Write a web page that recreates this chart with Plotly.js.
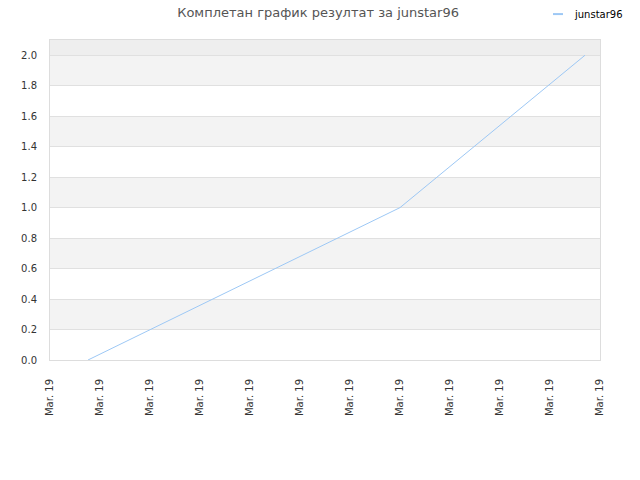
<!DOCTYPE html>
<html>
<head>
<meta charset="utf-8">
<script src="https://cdn.plot.ly/plotly-3.0.1.min.js"></script>
<style>
  html, body { margin: 0; padding: 0; background: #fff; }
  #graph { width: 640px; height: 480px; }
</style>
</head>
<body>
<div id="graph"></div>
<script>
// data (x in tick steps from the first tick)
var playerName = "junstar96";
var pointX = [0.76, 7.0, 10.7];
var pointY = [0.0, 1.0, 2.0];
var tickPos = [0, 1, 2, 3, 4, 5, 6, 7, 8, 9, 10, 11];
var tickLabels = ["Mar. 19", "Mar. 19", "Mar. 19", "Mar. 19", "Mar. 19", "Mar. 19",
                  "Mar. 19", "Mar. 19", "Mar. 19", "Mar. 19", "Mar. 19", "Mar. 19"];
var yTicks = [0, 0.2, 0.4, 0.6, 0.8, 1.0, 1.2, 1.4, 1.6, 1.8, 2.0];
var yMax = 2.1;
var lineColor = "#9dc8f5";

// alternating grey bands between y gridlines
var shapes = [];
for (var i = 1; i < yTicks.length - 1; i += 2) {
  shapes.push({type: "rect", xref: "paper", yref: "y", layer: "below",
    x0: 0, x1: 1, y0: yTicks[i], y1: yTicks[i + 1],
    fillcolor: "#f3f3f3", line: {width: 0}});
}
shapes.push({type: "rect", xref: "paper", yref: "y", layer: "below",
  x0: 0, x1: 1, y0: yTicks[yTicks.length - 1], y1: yMax,
  fillcolor: "#eeeeee", line: {width: 0}});
// legend drawn by hand (plotly's legend would push the margin)
shapes.push({type: "line", xref: "paper", yref: "paper",
  x0: 0.9145, x1: 0.9327, y0: 1.081, y1: 1.081,
  line: {color: lineColor, width: 2}});

var traces = [{
  x: pointX, y: pointY, mode: "lines", name: playerName,
  line: {color: lineColor, width: 1}
}];

var layout = {
  width: 640, height: 480,
  margin: {l: 50, r: 40, t: 40, b: 120},
  paper_bgcolor: "#fff", plot_bgcolor: "#fff",
  font: {family: "DejaVu Sans, sans-serif", size: 10, color: "#333"},
  title: {text: "Комплетан график резултат за " + playerName,
    font: {family: "DejaVu Sans, sans-serif", size: 13, color: "#555"},
    x: 0.497, xanchor: "center", y: 0.975, yanchor: "middle"},
  showlegend: false,
  annotations: [{text: playerName, xref: "paper", yref: "paper",
    x: 0.949, y: 1.081, xanchor: "left", yanchor: "middle", showarrow: false,
    font: {size: 10, color: "#000"}}],
  shapes: shapes,
  xaxis: {range: [0, 11], tickvals: tickPos, ticktext: tickLabels, tickangle: -90,
    showgrid: false, zeroline: false, showline: true, linecolor: "#ddd",
    mirror: true, ticks: "", ticklabelstandoff: 14, automargin: false,
    tickfont: {size: 10, color: "#333"}, fixedrange: true},
  yaxis: {range: [0, yMax], tickvals: yTicks, ticktext: yTicks.map(function(v){ return v.toFixed(1); }),
    showgrid: true, gridcolor: "#e0e0e0", zeroline: false, showline: true, linecolor: "#ddd",
    mirror: true, ticks: "", ticklabelstandoff: 10, automargin: false,
    tickfont: {size: 10, color: "#333"}, fixedrange: true}
};

Plotly.newPlot("graph", traces, layout, {displayModeBar: false, staticPlot: true});
</script>
</body>
</html>
